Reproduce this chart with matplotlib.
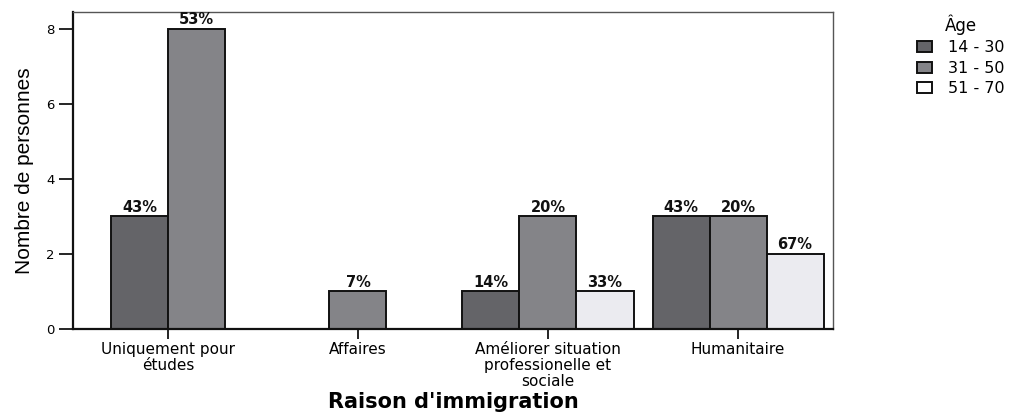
import matplotlib
matplotlib.use("Agg")
import matplotlib.pyplot as plt
from matplotlib.patches import Patch

plt.rcParams['font.family'] = ['DejaVu Sans']

categories = ["Uniquement pour\nétudes", "Affaires",
              "Améliorer situation\nprofessionelle et\nsociale", "Humanitaire"]
groups = ["14 - 30", "31 - 50", "51 - 70"]
counts = {
    "14 - 30": [3, 0, 1, 3],
    "31 - 50": [8, 1, 3, 3],
    "51 - 70": [0, 0, 1, 2],
}
percents = {
    "14 - 30": ["43%", "", "14%", "43%"],
    "31 - 50": ["53%", "7%", "20%", "20%"],
    "51 - 70": ["", "", "33%", "67%"],
}
colors = {"14 - 30": "#646468", "31 - 50": "#848488", "51 - 70": "#ebebf0"}

fig = plt.figure(figsize=(10.15, 4.15), dpi=100)
ax = fig.add_axes([0.0719, 0.2072, 0.7488, 0.7638])

width = 0.30
for ci in range(len(categories)):
    # only non-empty groups are drawn, centred on the category tick
    present = [g for g in groups if counts[g][ci] > 0]
    n = len(present)
    for k, g in enumerate(present):
        x = ci + (k - (n - 1) / 2) * width
        v = counts[g][ci]
        ax.bar(x, v, width=width, color=colors[g], edgecolor="#111111",
               linewidth=1.4, zorder=2)
        ax.text(x, v + 0.04, percents[g][ci], ha="center", va="bottom",
                fontsize=10.5, fontweight="bold", color="#111111")

ax.set_xlim(-0.5, 3.5)
ax.set_ylim(0, 8.45)
ax.set_yticks([0, 2, 4, 6, 8])
ax.set_xticks(range(len(categories)))
ax.set_xticklabels(categories, fontsize=11, linespacing=1.12)
ax.tick_params(axis="y", labelsize=9.5, length=10, width=1.2, direction="out", pad=3)
ax.tick_params(axis="x", length=7, width=1.2, direction="out", pad=2)

for side in ["left", "bottom"]:
    ax.spines[side].set_linewidth(1.6)
    ax.spines[side].set_color("#111111")
for side in ["top", "right"]:
    ax.spines[side].set_linewidth(1.0)
    ax.spines[side].set_color("#555555")

ax.set_ylabel("Nombre de personnes", fontsize=15,
              family=['Liberation Sans Narrow', 'Liberation Sans', 'DejaVu Sans'],
              labelpad=9)
ax.set_xlabel("Raison d'immigration", fontsize=15, fontweight="bold")
ax.xaxis.set_label_coords(0.5, -0.2)

handles = [Patch(facecolor=colors["14 - 30"], edgecolor="#111111", linewidth=1.4),
           Patch(facecolor=colors["31 - 50"], edgecolor="#111111", linewidth=1.4),
           Patch(facecolor="white", edgecolor="#111111", linewidth=1.4)]
fig.legend(handles, groups, title="Âge", loc="upper left",
           bbox_to_anchor=(0.903, 0.965), frameon=False, fontsize=11.5,
           title_fontsize=12, handlelength=0.95, handleheight=0.7,
           handletextpad=1.05, labelspacing=0.34, borderpad=0,
           borderaxespad=0)

fig.savefig("out.png", dpi=100)
